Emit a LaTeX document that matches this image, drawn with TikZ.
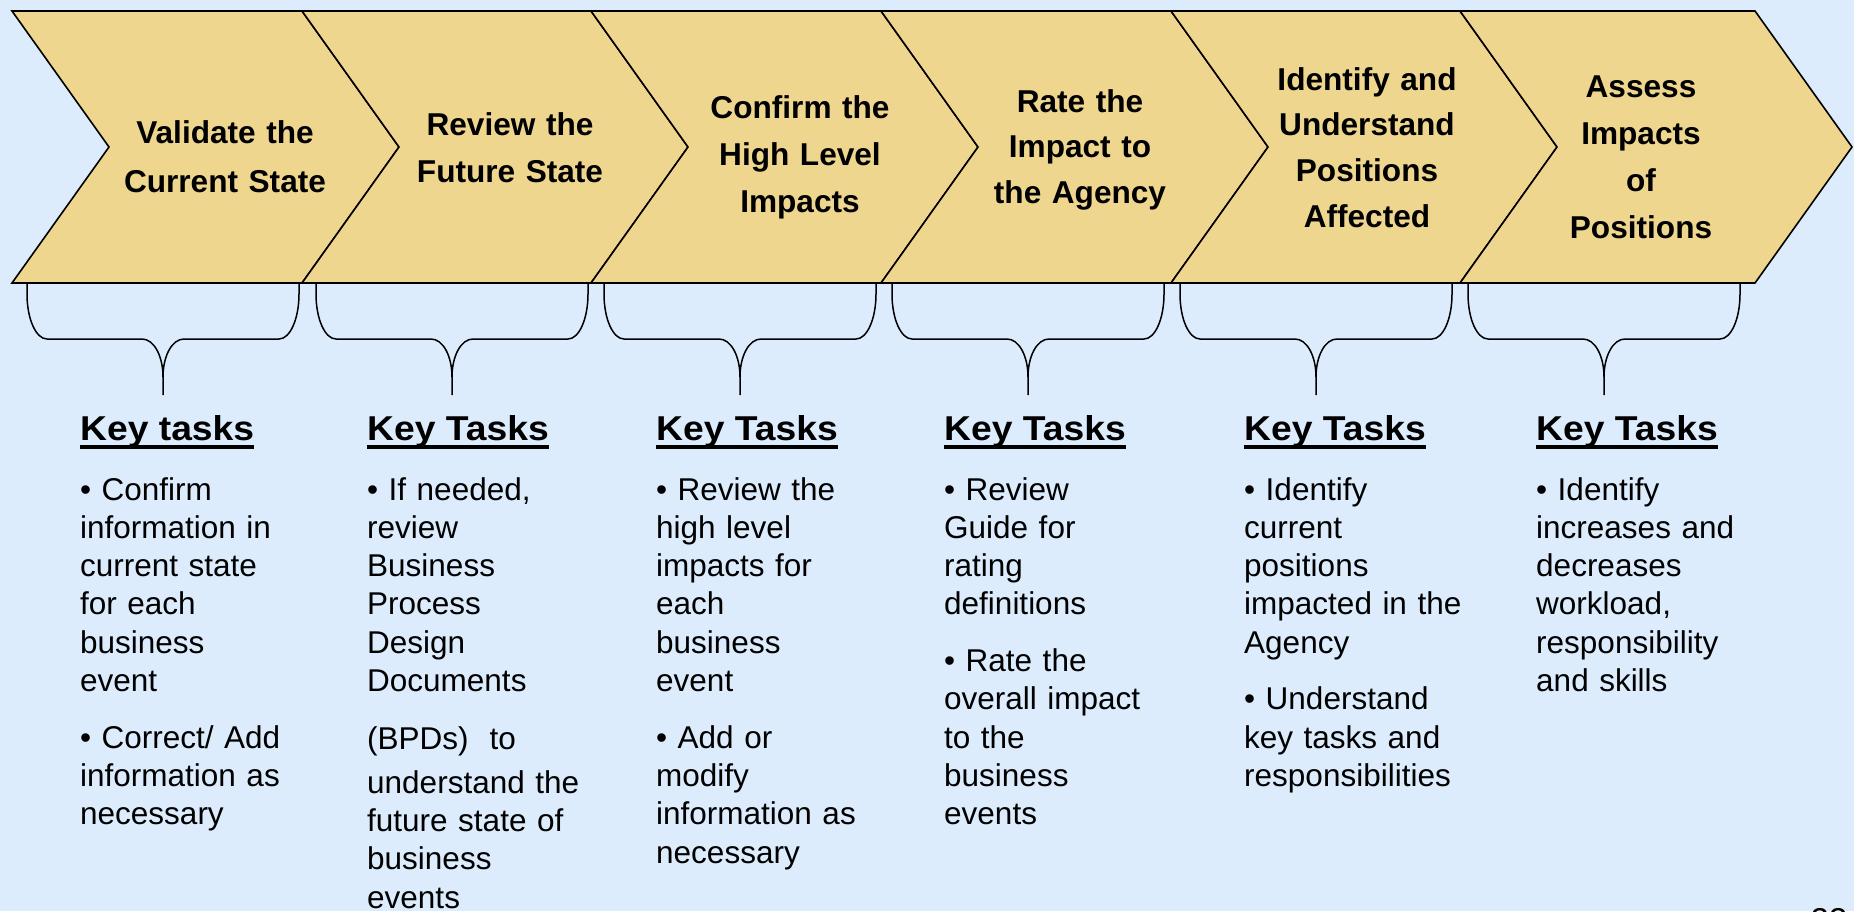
\documentclass[tikz,border=0pt]{standalone}
\usepackage{fontspec}
\setmainfont{Liberation Sans}
\newfontfamily\headfont[FakeStretch=1.08]{Liberation Sans}

\definecolor{pagebg}{RGB}{220,236,252}
\definecolor{stepfill}{RGB}{239,214,143}

\tikzset{
  chev/.style={draw=black, fill=stepfill, line width=1.6pt, line join=miter},
  brace/.style={draw=black, line width=1.5pt},
  title/.style={inner sep=0pt, text width=270pt, align=center, anchor=base,
    font=\bfseries\fontsize{31.6}{47}\selectfont},
  head/.style={inner sep=0pt, anchor=base west,
    font=\headfont\bfseries\fontsize{34.5}{40}\selectfont},
  body/.style={inner sep=0pt, text width=270pt, align=left, anchor=base west,
    font=\fontsize{31.5}{38.3}\selectfont},
  uline/.style={draw=black, line width=3.3pt},
}

\begin{document}
\begin{tikzpicture}[x=1pt, y=-1pt]
  \useasboundingbox (0,0) rectangle (1854,911);
  \fill[pagebg] (0,0) rectangle (1854,911);

  % process chevrons
  \foreach \a/\b [count=\i] in {12/302,302/591,591/881,881/1171,1171/1460,1460/1755}
    \draw[chev] (\a,11) -- (\b,11) -- (\b+97,147) -- (\b,283) -- (\a,283) -- (\a+97,147) -- cycle;

  % step titles
  \node[title, font=\bfseries\fontsize{31.6}{49}\selectfont] (t1) at (225,143) {Validate the\\Current State};
  \node[title] (t2) at (510,135) {Review the\\Future State};
  \node[title] (t3) at (800,118) {Confirm the\\High Level\\Impacts};
  \node[title, font=\bfseries\fontsize{31.6}{45.5}\selectfont] (t4) at (1080,112) {Rate the\\Impact to\\the Agency};
  \node[title, font=\bfseries\fontsize{31.6}{45.7}\selectfont] (t5) at (1367,90) {Identify and\\Understand\\Positions\\Affected};
  \node[title] (t6) at (1641,97) {Assess\\Impacts\\of\\Positions};

  % braces under each step
  \foreach \c [count=\i] in {163,452,740,1028,1316,1604} {
    \coordinate (tip\i) at (\c,395);
    \coordinate (jn\i) at (\c,377);
    \draw[brace] (\c-136,283) -- (\c-136,294)
      .. controls (\c-136,319) and (\c-127,339) .. (\c-116,339)
      -- (\c-21,339) .. controls (\c-9,339) and (\c,356) .. (jn\i) -- (tip\i);
    \draw[brace] (jn\i) .. controls (\c,356) and (\c+9,339) .. (\c+21,339)
      -- (\c+116,339) .. controls (\c+127,339) and (\c+136,319) .. (\c+136,294)
      -- (\c+136,283);
  }

  % key task headings
  \node[head] (k1) at (80,440.5) {Key tasks};
  \node[head] (k2) at (367,440.5) {Key Tasks};
  \node[head] (k3) at (656,440.5) {Key Tasks};
  \node[head] (k4) at (944,440.5) {Key Tasks};
  \node[head] (k5) at (1244,440.5) {Key Tasks};
  \node[head] (k6) at (1536,440.5) {Key Tasks};
  \foreach \k in {k1,k2,k3,k4,k5,k6}
    \draw[uline] ([yshift=-6.5pt]\k.base west) -- ([yshift=-6.5pt]\k.base east);

  % task lists
  \node[body] (b1) at (80,500) {• Confirm\\information in\\current state\\for each\\business\\event\\[18.4pt]%
    • Correct/ Add\\information as\\necessary};
  \node[body] (b2) at (367,500) {• If needed,\\review\\Business\\Process\\Design\\Documents\\[20pt]%
    (BPDs)\ \ to\\[5pt]understand the\\future state of\\business\\events};
  \node[body] (b3) at (656,500) {• Review the\\high level\\impacts for\\each\\business\\event\\[18.4pt]%
    • Add or\\modify\\information as\\necessary};
  \node[body] (b4) at (944,500) {• Review\\Guide for\\rating\\definitions\\[18.4pt]%
    • Rate the\\overall impact\\to the\\business\\events};
  \node[body] (b5) at (1244,500) {• Identify\\current\\positions\\impacted in the\\Agency\\[18.4pt]%
    • Understand\\key tasks and\\responsibilities};
  \node[body] (b6) at (1536,500) {• Identify\\increases and\\decreases\\workload,\\responsibility\\and skills};

  % slide number, mostly below the page edge
  \node[inner sep=0pt, anchor=base, font=\fontsize{33}{40}\selectfont] (pg) at (1829,931) {23};
\end{tikzpicture}
\end{document}
